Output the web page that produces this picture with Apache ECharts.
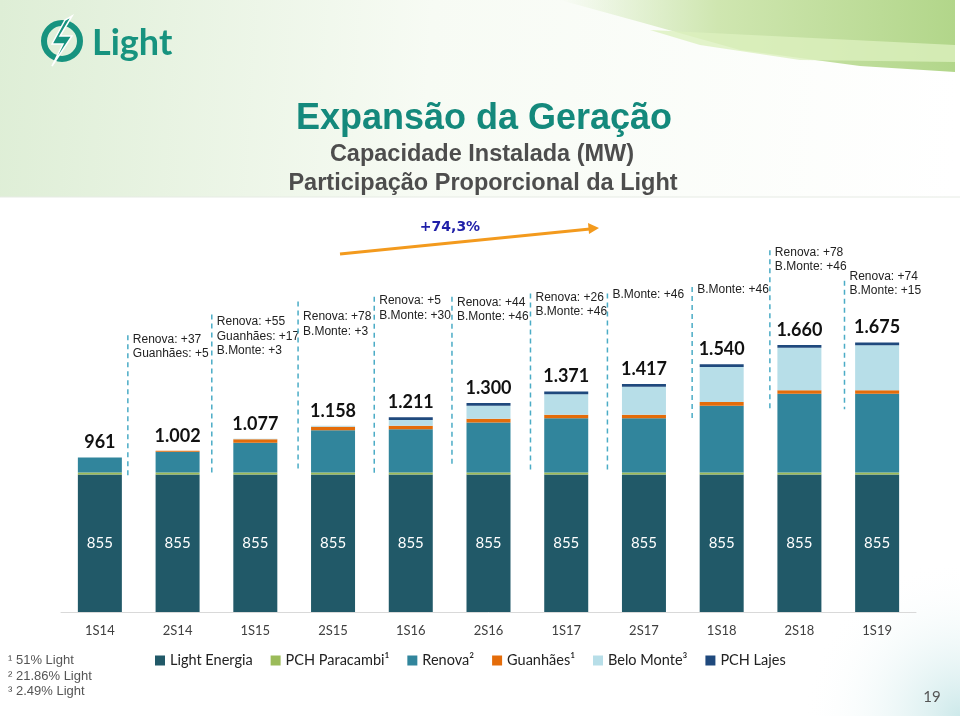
<!DOCTYPE html>
<html><head><meta charset="utf-8">
<script src="https://cdn.jsdelivr.net/npm/echarts@6/dist/echarts.min.js"></script>
<style>html,body{margin:0;padding:0;background:#fff}#c{width:960px;height:716px}</style>
</head><body><div id="c"></div>
<script>
const categories = ['1S14','2S14','1S15','2S15','1S16','2S16','1S17','2S17','1S18','2S18','1S19'];
const lightEnergia = [855,855,855,855,855,855,855,855,855,855,855];
const pchParacambi = [13,13,13,13,13,13,13,13,13,13,13];
const renova       = [93,129,184,262,268,311,337,337,415,489,489];
const guanhaes     = [0,5,22,22,22,22,22,22,22,22,22];
const beloMonte    = [0,0,3,6,36,82,127,173,218,264,279];
const pchLajes     = [0,0,0,0,17,17,17,17,17,17,17];
const totals       = [961,1002,1077,1158,1211,1300,1371,1417,1540,1660,1675];
const seriesNames  = ['Light Energia','PCH Paracambi¹','Renova²','Guanhães¹','Belo Monte³','PCH Lajes'];
const growthLabel  = '+74,3%';

// annotations (placed between bars, in axis units)
const annoBar   = [1,2,3,4,5,6,7,8,9,10];
const annoText  = [
  ['Renova: +37','Guanhães: +5'],
  ['Renova: +55','Guanhães: +17','B.Monte: +3'],
  ['Renova: +78','B.Monte: +3'],
  ['Renova: +5','B.Monte: +30'],
  ['Renova: +44','B.Monte: +46'],
  ['Renova: +26','B.Monte: +46'],
  ['B.Monte: +46'],
  ['B.Monte: +46'],
  ['Renova: +78','B.Monte: +46'],
  ['Renova: +74','B.Monte: +15']
];
const annoPos       = [0.36,0.44,0.55,0.53,0.53,0.54,0.53,0.62,0.62,0.58];
const annoTextTop   = [1740,1850,1880,1980,1970,2000,2020,2050,2280,2130];
const annoLineTop   = [1720,1850,1930,1960,1960,1980,1980,2020,2250,2060];
const annoLineBot   = [850,850,870,850,900,870,880,1190,1260,1260];

const fmt = v => v >= 1000 ? Math.floor(v/1000) + '.' + String(v%1000).padStart(3,'0') : String(v);

const colors = ['#215968','#9bbb59','#31859c','#e46c0a','#b7dee8','#1f497d'];
const seriesData = [lightEnergia,pchParacambi,renova,guanhaes,beloMonte,pchLajes];

const chart = echarts.init(document.getElementById('c'));
const series = seriesData.map((d,k)=>({
  name: seriesNames[k], type:'bar', stack:'s', data:d, barWidth:44,
  itemStyle:{color:colors[k]},
  label: k===0 ? {show:true, position:'inside', color:'#fff', fontFamily:'Lato', fontSize:15, formatter:p=>fmt(p.value)} : {show:false},
  emphasis:{disabled:true}
}));
series.push({
  name:'total', type:'bar', stack:'s', data:totals.map(()=>0), barWidth:44,
  itemStyle:{color:'transparent'},
  label:{show:true, position:'top', distance:6, color:'#111', fontFamily:'Lato', fontWeight:'bold', fontSize:18,
    formatter:p=>fmt(totals[p.dataIndex])}
});
series.push({
  type:'custom', z:5, clip:false,
  encode:{x:0,y:2},
  data: annoBar.map((b,i)=>[b, annoPos[i], annoTextTop[i], annoLineTop[i], annoLineBot[i]]),
  renderItem(params, api){
    const i = api.value(0);
    const c0 = api.coord([i-1,0]), c1 = api.coord([i,0]);
    const x = c0[0] + (c1[0]-c0[0])*api.value(1);
    const yt = api.coord([i, api.value(2)])[1];
    const y1 = api.coord([i, api.value(3)])[1];
    const y2 = api.coord([i, api.value(4)])[1];
    return {type:'group', children:[
      {type:'line', shape:{x1:x,y1:y1,x2:x,y2:y2}, style:{stroke:'#4bacc6', lineWidth:1.5, lineDash:[5,4]}},
      {type:'text', x:x+5, y:yt, style:{text:annoText[params.dataIndex].join('\n'), fill:'#222',
        font:'12px "Liberation Sans", Arial', lineHeight:14.5, verticalAlign:'top'}}
    ]};
  }
});

chart.setOption({
  animation:false,
  backgroundColor:'#ffffff',
  grid:{left:61, right:44, top:226, bottom:104},
  xAxis:{type:'category', data:categories,
    axisLine:{lineStyle:{color:'#d9d9d9', width:1}}, axisTick:{show:false},
    axisLabel:{color:'#404040', fontFamily:'Lato', fontSize:13, margin:12}},
  yAxis:{type:'value', min:0, max:2400, show:false, splitLine:{show:false}},
  legend:{data:seriesNames, left:150, top:648, icon:'rect', itemWidth:10, itemHeight:10, itemGap:18,
    textStyle:{fontFamily:'Lato', fontSize:14.5, color:'#222'}},
  series: series,
  graphic:[
    // header background
    {type:'rect', z:-10, shape:{x:0,y:0,width:960,height:197},
      style:{fill:new echarts.graphic.LinearGradient(0,0,1,0.3,[
        {offset:0,color:'#deeed6'},{offset:0.45,color:'#f7fbf4'},{offset:1,color:'#ffffff'}])}},
    {type:'polygon', z:-9, shape:{points:[[560,0],[955,0],[955,72],[860,66],[740,50],[640,22]]},
      style:{fill:new echarts.graphic.LinearGradient(0,0,1,0,[
        {offset:0,color:'rgba(200,228,170,0)'},{offset:0.4,color:'#cfe6b0'},{offset:1,color:'#b2d68a'}])}},
    {type:'polygon', z:-8, shape:{points:[[650,30],[955,45],[955,62],[800,60],[700,45]]},
      style:{fill:'rgba(220,240,190,0.8)'}},
    {type:'line', z:-7, shape:{x1:0,y1:197,x2:960,y2:197}, style:{stroke:'#e6ebe4', lineWidth:1}},
    // bottom-right tint
    {type:'rect', z:-10, shape:{x:560,y:560,width:400,height:156},
      style:{fill:new echarts.graphic.RadialGradient(1,1,1,[
        {offset:0,color:'#cde9ea'},{offset:1,color:'rgba(255,255,255,0)'}])}},
    // logo
    {type:'circle', shape:{cx:62,cy:41,r:18}, style:{fill:'none', stroke:'#17937f', lineWidth:6}},
    {type:'polygon', shape:{points:[[72,16],[60,36],[72,36],[52,66],[63,44],[52,44],[65,20]]},
      style:{fill:'#17937f', stroke:'#ffffff', lineWidth:1.5}},
    {type:'text', x:92, y:43, style:{text:'Light', font:'bold 36px Lato', fill:'#17937f', verticalAlign:'middle'}},
    // titles
    {type:'text', x:484, y:119, style:{text:'Expansão da Geração', font:'bold 36px "Liberation Sans", Arial', fill:'#14897c', align:'center', verticalAlign:'middle'}},
    {type:'text', x:482, y:155, style:{text:'Capacidade Instalada (MW)', font:'bold 23.5px "Liberation Sans", Arial', fill:'#4d4d4d', align:'center', verticalAlign:'middle'}},
    {type:'text', x:483, y:184, style:{text:'Participação Proporcional da Light', font:'bold 23.5px "Liberation Sans", Arial', fill:'#4d4d4d', align:'center', verticalAlign:'middle'}},
    // growth arrow
    {type:'line', shape:{x1:340,y1:254,x2:590,y2:229}, style:{stroke:'#f39a1d', lineWidth:3}},
    {type:'polygon', shape:{points:[[599,228],[589,234],[588,223]]}, style:{fill:'#f39a1d'}},
    {type:'text', x:450, y:227, style:{text:growthLabel, font:'bold 14px "DejaVu Sans", Verdana', fill:'#1f1fa8', align:'center', verticalAlign:'middle'}},
    // footnotes
    {type:'text', x:8, y:653, style:{text:'¹ 51% Light\n² 21.86% Light\n³ 2.49% Light', font:'13px "Liberation Sans", Arial', fill:'#555', lineHeight:15.5, verticalAlign:'top'}},
    {type:'text', x:932, y:697, style:{text:'19', font:'15px Lato', fill:'#555', align:'center', verticalAlign:'middle'}}
  ]
});
</script></body></html>
